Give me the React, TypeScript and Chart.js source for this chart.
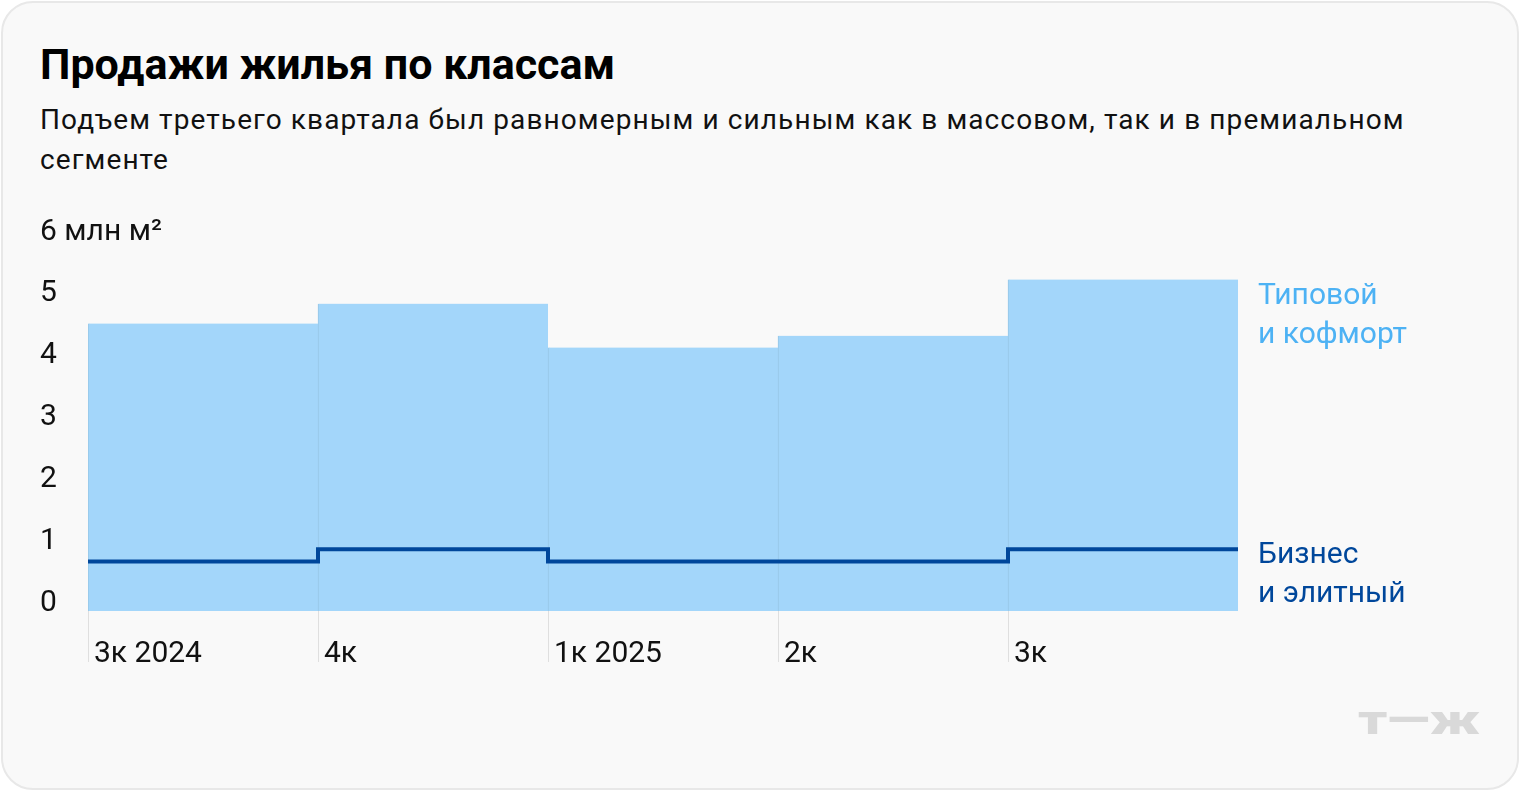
import React, { useEffect, useRef } from "react";
import { Chart, registerables } from "chart.js";

Chart.register(...registerables);

const quarters = ["3к 2024", "4к", "1к 2025", "2к", "3к"];
const typicalComfort = [4.65, 4.97, 4.26, 4.45, 5.36];
const businessElite = [0.8, 1.0, 0.8, 0.8, 1.0];
const yTickValues = [0, 1, 2, 3, 4, 5, 6];
const yUnit = "млн м²";
const seriesNames = [["Типовой", "и кофморт"], ["Бизнес", "и элитный"]];

const LIGHT = "#a3d6fa";
const EDGE = "#97c6e6";
const DARK = "#00479b";
const LIGHT_TEXT = "#4db2f4";
const FONT = "Roboto";
const TICK_SIZE = 30;
const Y_LABEL_OFFSET = -8;

export default function App() {
  const ref = useRef<HTMLCanvasElement | null>(null);

  useEffect(() => {
    if (!ref.current) return;
    const stepData = businessElite.map((v, i) => ({ x: i, y: v }));
    stepData.push({ x: businessElite.length, y: businessElite[businessElite.length - 1] });
    const yMax = yTickValues[yTickValues.length - 1];

    const labelsPlugin = {
      id: "endLabels",
      afterDraw(chart: any) {
        const { ctx, chartArea, scales } = chart;
        const y = scales.y;
        ctx.save();
        ctx.font = `${TICK_SIZE}px ${FONT}`;
        ctx.textAlign = "left";
        ctx.textBaseline = "middle";
        ctx.fillStyle = "#111";
        ctx.fillText(`${yMax} ${yUnit}`, y.left, y.getPixelForValue(yMax) + Y_LABEL_OFFSET);
        ctx.textBaseline = "alphabetic";
        const x0 = chartArea.right + 20;
        const yT = y.getPixelForValue(typicalComfort[typicalComfort.length - 1]) + 24;
        ctx.fillStyle = LIGHT_TEXT;
        seriesNames[0].forEach((t, i) => ctx.fillText(t, x0, yT + i * 39));
        const yB = y.getPixelForValue(businessElite[businessElite.length - 1]) + 14;
        ctx.fillStyle = DARK;
        seriesNames[1].forEach((t, i) => ctx.fillText(t, x0, yB + i * 39));
        ctx.restore();
      },
    };

    const chart = new Chart(ref.current, {
      type: "bar",
      data: {
        labels: quarters,
        datasets: [
          {
            type: "line",
            label: seriesNames[1].join(" "),
            data: stepData as any,
            xAxisID: "xl",
            stepped: true,
            borderColor: DARK,
            borderWidth: 4,
            pointRadius: 0,
            fill: false,
            borderCapStyle: "butt",
            borderJoinStyle: "miter",
            order: 0,
          } as any,
          {
            type: "bar",
            label: seriesNames[0].join(" "),
            data: typicalComfort,
            xAxisID: "x",
            backgroundColor: LIGHT,
            borderColor: EDGE,
            borderWidth: { left: 1, right: 0, top: 0, bottom: 0 },
            borderSkipped: false,
            categoryPercentage: 1,
            barPercentage: 1,
            grouped: false,
            order: 1,
          } as any,
        ],
      },
      options: {
        animation: false,
        responsive: false,
        devicePixelRatio: 1,
        layout: { padding: { left: 40, right: 282, top: 40, bottom: 0 } },
        plugins: { legend: { display: false }, tooltip: { enabled: false }, title: { display: false } },
        scales: {
          x: { type: "category", display: false, offset: true },
          xl: {
            type: "linear",
            position: "bottom",
            offset: false,
            min: 0,
            max: quarters.length,
            ticks: {
              stepSize: 1,
              autoSkip: false,
              maxRotation: 0,
              align: "start",
              labelOffset: 6,
              padding: -26,
              color: "#111",
              font: { family: FONT, size: TICK_SIZE },
              callback: (v: any) => quarters[v] ?? "",
            },
            grid: {
              offset: false,
              drawOnChartArea: false,
              drawTicks: true,
              tickLength: 51,
              lineWidth: 1,
              color: (c: any) => (c.tick && c.tick.value < quarters.length ? "rgba(0,0,0,0.1)" : "rgba(0,0,0,0)"),
            },
            border: { display: false },
            afterFit: (s: any) => {
              s.height = 89;
              s.paddingLeft = 0;
              s.paddingRight = 0;
            },
          } as any,
          y: {
            min: 0,
            max: yMax,
            afterBuildTicks: (s: any) => {
              s.ticks = yTickValues.map((v) => ({ value: v }));
            },
            ticks: {
              crossAlign: "far",
              labelOffset: Y_LABEL_OFFSET,
              color: "#111",
              font: { family: FONT, size: TICK_SIZE },
              callback: (v: any) => (v === yMax ? "" : String(v)),
            },
            grid: { display: false },
            border: { display: false },
            afterFit: (s: any) => {
              s.width = 48;
              s.paddingTop = 0;
              s.paddingBottom = 0;
            },
          } as any,
        },
      },
      plugins: [labelsPlugin],
    });
    return () => chart.destroy();
  }, []);

  return (
    <div style={{ position: "fixed", inset: 0, background: "#fff", fontFamily: FONT }}>
      <div
        style={{
          position: "absolute",
          left: 1,
          top: 1,
          width: 1518,
          height: 789,
          boxSizing: "border-box",
          border: "2px solid #e8e8e8",
          borderRadius: 32,
          background: "#f9f9f9",
        }}
      />
      <div
        style={{
          position: "absolute",
          left: 40,
          top: 39,
          fontSize: 43,
          lineHeight: "50px",
          fontWeight: 700,
          color: "#000",
          whiteSpace: "nowrap",
        }}
      >
        Продажи жилья по классам
      </div>
      <div
        style={{
          position: "absolute",
          left: 40,
          top: 100,
          fontSize: 28,
          lineHeight: "40px",
          letterSpacing: "1.1px",
          color: "#111",
          whiteSpace: "nowrap",
        }}
      >
        Подъем третьего квартала был равномерным и сильным как в массовом, так и в премиальном
        <br />
        сегменте
      </div>
      <canvas
        ref={ref}
        width={1520}
        height={500}
        style={{ position: "absolute", left: 0, top: 200, width: 1520, height: 500 }}
      />
      <div
        style={{
          position: "absolute",
          left: 1358,
          top: 691,
          fontSize: 40,
          lineHeight: "60px",
          fontWeight: 900,
          color: "#d9d9d9",
          whiteSpace: "nowrap",
          transform: "scaleX(1.4)",
          transformOrigin: "left center",
        }}
      >
        т—ж
      </div>
    </div>
  );
}
